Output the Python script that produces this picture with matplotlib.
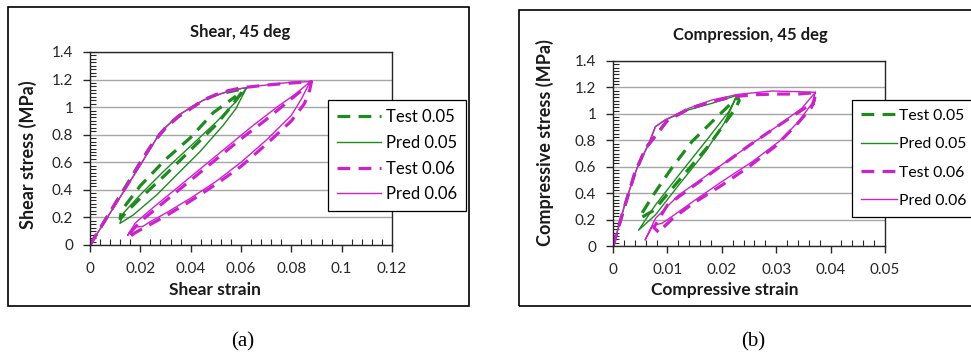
import matplotlib
matplotlib.use("Agg")
import matplotlib.pyplot as plt
from matplotlib.patches import Rectangle
from matplotlib.ticker import MultipleLocator, FuncFormatter

plt.rcParams['font.family'] = ['Lato', 'DejaVu Sans']

GREEN = '#1f8a1f'
MAGENTA = '#cc22cc'

labels = ['Test 0.05', 'Pred 0.05', 'Test 0.06', 'Pred 0.06']

# ---- (a) shear, 45 deg ----
shear_test05_x = [0, 0.005, 0.01, 0.015, 0.02, 0.025, 0.03, 0.035, 0.04, 0.045, 0.05, 0.055, 0.06, 0.061,
                  0.06, 0.055, 0.05, 0.04, 0.03, 0.02, 0.014, 0.012,
                  0.0125, 0.02, 0.03, 0.04, 0.049, 0.058]
shear_test05_y = [0, 0.15, 0.30, 0.45, 0.60, 0.74, 0.85, 0.93, 0.99, 1.05, 1.09, 1.11, 1.13, 1.13,
                  1.10, 0.98, 0.87, 0.69, 0.51, 0.34, 0.23, 0.19,
                  0.25, 0.43, 0.62, 0.78, 0.96, 1.08]

shear_pred05_x = [0, 0.01, 0.02, 0.028, 0.031, 0.035, 0.04, 0.045, 0.05, 0.055, 0.06, 0.0622,
                  0.058, 0.053, 0.0437, 0.0344, 0.0265, 0.0172, 0.0119,
                  0.0132, 0.0199, 0.029, 0.0397, 0.0503, 0.058, 0.0622]
shear_pred05_y = [0, 0.29, 0.58, 0.82, 0.87, 0.94, 0.996, 1.05, 1.085, 1.115, 1.135, 1.14,
                  0.99, 0.87, 0.677, 0.508, 0.363, 0.218, 0.157,
                  0.23, 0.363, 0.53, 0.713, 0.894, 1.04, 1.14]

shear_test06_x = [0, 0.005, 0.01, 0.015, 0.02, 0.025, 0.03, 0.035, 0.04, 0.045, 0.05, 0.055, 0.06, 0.07, 0.08, 0.088,
                  0.087, 0.085, 0.08, 0.07, 0.06, 0.05, 0.04, 0.03, 0.022, 0.018, 0.015,
                  0.016, 0.02, 0.03, 0.04, 0.05, 0.06, 0.07, 0.078, 0.084]
shear_test06_y = [0, 0.15, 0.30, 0.44, 0.60, 0.74, 0.85, 0.93, 0.99, 1.05, 1.09, 1.12, 1.14, 1.16, 1.175, 1.185,
                  1.10, 1.02, 0.90, 0.73, 0.57, 0.44, 0.32, 0.21, 0.13, 0.09, 0.05,
                  0.09, 0.17, 0.32, 0.47, 0.62, 0.77, 0.91, 1.03, 1.12]

shear_pred06_x = [0, 0.01, 0.02, 0.028, 0.031, 0.035, 0.04, 0.045, 0.05, 0.055, 0.06, 0.065, 0.07, 0.075, 0.08, 0.0875,
                  0.084, 0.08, 0.07, 0.06, 0.05, 0.04, 0.03, 0.024, 0.021, 0.018, 0.016, 0.015,
                  0.018, 0.025, 0.035, 0.045, 0.055, 0.065, 0.075, 0.082, 0.0875]
shear_pred06_y = [0, 0.29, 0.58, 0.82, 0.87, 0.94, 0.996, 1.05, 1.085, 1.115, 1.135, 1.15, 1.16, 1.172, 1.18, 1.185,
                  1.06, 0.94, 0.76, 0.60, 0.46, 0.34, 0.23, 0.17, 0.135, 0.13, 0.10, 0.07,
                  0.16, 0.27, 0.42, 0.57, 0.72, 0.87, 1.01, 1.10, 1.185]

# ---- (b) compression, 45 deg ----
comp_test05_x = [0, 0.002, 0.004, 0.006, 0.0084, 0.01, 0.014, 0.018, 0.0228,
                 0.0232, 0.0225, 0.0176, 0.012, 0.0075, 0.005,
                 0.0055, 0.0078, 0.0108, 0.0145, 0.0182, 0.022, 0.0228]
comp_test05_y = [0, 0.28, 0.55, 0.74, 0.865, 0.95, 1.04, 1.09, 1.14,
                 1.10, 1.04, 0.76, 0.49, 0.27, 0.21,
                 0.26, 0.41, 0.59, 0.79, 0.94, 1.09, 1.12]

comp_pred05_x = [0, 0.001, 0.0023, 0.0044, 0.0066, 0.0078, 0.0096, 0.0139, 0.0182, 0.0228,
                 0.0206, 0.017, 0.0121, 0.0078, 0.0047,
                 0.0078, 0.0121, 0.017, 0.0213, 0.0228]
comp_pred05_y = [0, 0.14, 0.335, 0.588, 0.777, 0.903, 0.954, 1.03, 1.08, 1.14,
                 0.94, 0.714, 0.462, 0.235, 0.12,
                 0.31, 0.537, 0.79, 1.017, 1.14]

comp_test06_x = [0, 0.002, 0.004, 0.006, 0.0084, 0.01, 0.014, 0.018, 0.022, 0.026, 0.03, 0.034, 0.0372,
                 0.037, 0.0365, 0.034, 0.03, 0.025, 0.02, 0.015, 0.011, 0.009, 0.0085,
                 0.0075, 0.01, 0.015, 0.02, 0.025, 0.03, 0.0355, 0.037]
comp_test06_y = [0, 0.28, 0.55, 0.74, 0.865, 0.95, 1.04, 1.09, 1.13, 1.145, 1.15, 1.15, 1.16,
                 1.10, 1.05, 0.93, 0.76, 0.60, 0.46, 0.33, 0.21, 0.13, 0.10,
                 0.14, 0.31, 0.46, 0.61, 0.76, 0.90, 1.05, 1.08]

comp_pred06_x = [0, 0.001, 0.0023, 0.0044, 0.0066, 0.0078, 0.0096, 0.0139, 0.0182, 0.0231, 0.0292, 0.0341, 0.0372,
                 0.0366, 0.0341, 0.0305, 0.0256, 0.02, 0.0151, 0.0108, 0.009, 0.0078, 0.0072, 0.0059,
                 0.0078, 0.0121, 0.0182, 0.0243, 0.0305, 0.0347, 0.0372]
comp_pred06_y = [0, 0.14, 0.335, 0.588, 0.777, 0.903, 0.954, 1.042, 1.105, 1.148, 1.173, 1.168, 1.163,
                 1.08, 0.941, 0.79, 0.638, 0.487, 0.348, 0.222, 0.172, 0.16, 0.146, 0.045,
                 0.209, 0.386, 0.563, 0.739, 0.916, 1.042, 1.163]

W, H = 971, 358
fig = plt.figure(figsize=(W / 100, H / 100), dpi=100)


def fx(px):
    return px / W


def fy(py):
    return 1 - py / H


def fmt(v, pos):
    s = ('%.2f' % v).rstrip('0').rstrip('.')
    return s


def panel(box, rect, title, title_xy, xlabel, xlabel_xy, ylabel, ylabel_xy,
          curves, xmax, xmajor, xminor, leg_xy, leg_space, leg_hl, leg_tp, leg_fs):
    # outer frame of the chart
    x0, y0, x1, y1 = box
    fig.add_artist(Rectangle((fx(x0), fy(y1)), fx(x1 - x0), (y1 - y0) / H,
                             transform=fig.transFigure, fill=False, ec='black', lw=1.2))
    l, t, r, b = rect
    ax = fig.add_axes([fx(l), fy(b), fx(r - l), (b - t) / H])
    styles = [(GREEN, '--', 2.3), (GREEN, '-', 1.0), (MAGENTA, '--', 2.3), (MAGENTA, '-', 1.0)]
    for (xs, ys), lab, (c, ls, lw) in zip(curves, labels, styles):
        line, = ax.plot(xs, ys, color=c, ls=ls, lw=lw, label=lab)
        if ls == '--':
            line.set_dashes((4, 2.6))
    ax.set_xlim(0, xmax)
    ax.set_ylim(0, 1.4)
    ax.xaxis.set_major_locator(MultipleLocator(xmajor))
    ax.xaxis.set_minor_locator(MultipleLocator(xminor))
    ax.yaxis.set_major_locator(MultipleLocator(0.2))
    ax.yaxis.set_minor_locator(MultipleLocator(0.025))
    ax.xaxis.set_major_formatter(FuncFormatter(fmt))
    ax.yaxis.set_major_formatter(FuncFormatter(fmt))
    ax.grid(axis='y', color='#a6a6a6', lw=1.0)
    ax.set_axisbelow(True)
    for s in ax.spines.values():
        s.set_color('#262626')
        s.set_linewidth(1.0)
    ax.tick_params(which='major', direction='out', length=5, width=1, color='#262626',
                   labelsize=11, labelcolor='#262626', pad=7)
    ax.tick_params(which='minor', direction='in', length=4, width=0.8, color='#262626')
    fig.text(fx(title_xy[0]), fy(title_xy[1]), title, ha='center', va='center',
             fontsize=12, fontweight='bold', color='#1a1a1a')
    fig.text(fx(xlabel_xy[0]), fy(xlabel_xy[1]), xlabel, ha='center', va='center',
             fontsize=12.5, fontweight='bold', color='#1a1a1a')
    fig.text(fx(ylabel_xy[0]), fy(ylabel_xy[1]), ylabel, ha='center', va='center',
             rotation=90, fontsize=13, fontweight='bold', color='#1a1a1a')
    leg = ax.legend(loc='upper left', bbox_to_anchor=(fx(leg_xy[0]), fy(leg_xy[1])),
                    bbox_transform=fig.transFigure, borderaxespad=0, fontsize=leg_fs,
                    frameon=True, fancybox=False, framealpha=1, edgecolor='black',
                    handlelength=leg_hl, handletextpad=leg_tp, borderpad=0.55,
                    labelspacing=leg_space)
    leg.get_frame().set_linewidth(0.9)
    leg.set_zorder(10)
    return ax


panel((8, 7, 469, 306), (90, 52, 392, 245), 'Shear, 45 deg', (240, 32),
      'Shear strain', (215, 290), 'Shear stress (MPa)', (28, 155),
      [(shear_test05_x, shear_test05_y), (shear_pred05_x, shear_pred05_y),
       (shear_test06_x, shear_test06_y), (shear_pred06_x, shear_pred06_y)],
      0.12, 0.02, 0.004, (328, 100), 0.58, 2.6, 0.3, 12)

panel((519, 10, 990, 306), (613, 61, 885, 246), 'Compression, 45 deg', (750, 35),
      'Compressive strain', (725, 290), 'Compressive stress (MPa)', (545, 143),
      [(comp_test05_x, comp_test05_y), (comp_pred05_x, comp_pred05_y),
       (comp_test06_x, comp_test06_y), (comp_pred06_x, comp_pred06_y)],
      0.05, 0.01, 0.002, (852, 100), 0.92, 2.3, 0.15, 11.3)

fig.text(fx(243), fy(342), '(a)', ha='center', va='center', family='Liberation Serif', fontsize=15)
fig.text(fx(753), fy(342), '(b)', ha='center', va='center', family='Liberation Serif', fontsize=15)

fig.savefig('out.png', dpi=100)
